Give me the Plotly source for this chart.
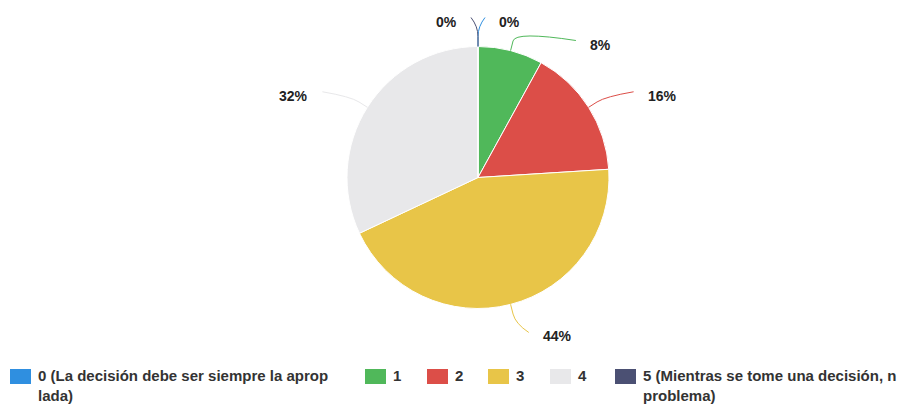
import math
import plotly.graph_objects as go

# Survey answers on a 0-5 scale
categories = ["0", "1", "2", "3", "4", "5"]
legend_labels = [
    "0 (La decisión debe ser siempre la aprop<br>lada)",
    "1",
    "2",
    "3",
    "4",
    "5 (Mientras se tome una decisión, n<br>problema)",
]
percentages = [0, 8, 16, 44, 32, 0]

colors = ["#2f8fe0", "#50b85a", "#dc4e48", "#e8c548", "#e8e8ea", "#4b5073"]

W, H = 907, 408
CX, CY, R = 478, 177.5, 131          # pie centre and radius (px)
LABEL_R = 160                         # radius of the label ring
STRETCH = 1.1                         # horizontal spread of the label ring
PAD = 7
TEXT_GAP = 12
MIN_SEP = 23


def px(x):
    return x / W


def py(y):
    return 1 - y / H


fig = go.Figure(
    go.Pie(
        labels=categories,
        values=percentages,
        marker=dict(colors=colors, line=dict(color="white", width=1)),
        sort=False,
        direction="clockwise",
        rotation=0,
        textinfo="none",
        showlegend=False,
        domain=dict(x=[px(CX - R), px(CX + R)], y=[py(CY + R), py(CY - R)]),
    )
)

# Mid-angle of each slice, clockwise from 12 o'clock
total = sum(percentages)
mids = []
acc = 0
for v in percentages:
    mids.append((acc + v / 2) / total * 2 * math.pi)
    acc += v

# Outside labels: place on a ring, push apart vertically on each side
items = []
for i, th in enumerate(mids):
    side = 1 if th < math.pi else -1
    items.append(dict(i=i, th=th, side=side, y=-LABEL_R * math.cos(th)))

for s in (1, -1):
    group = sorted([it for it in items if it["side"] == s], key=lambda d: d["y"])
    prev = None
    for it in group:
        if prev is not None and it["y"] < prev + MIN_SEP:
            it["y"] = prev + MIN_SEP
        prev = it["y"]


def radial(th, r):
    return CX + r * math.sin(th), CY - r * math.cos(th)


shapes = []
annotations = []
for it in items:
    i, th, side, yr = it["i"], it["th"], it["side"], it["y"]
    xr = side * (STRETCH * math.sqrt(max(LABEL_R ** 2 - yr ** 2, 0)) + PAD)
    ex, ey = radial(th, R)
    bx, by = radial(th, R + 10)
    qx, qy = radial(th, R + 20)
    tx, ty = CX + xr, CY + yr
    shapes.append(dict(
        type="path", xref="paper", yref="paper",
        path=(f"M {px(ex)} {py(ey)} L {px(bx)} {py(by)} "
              f"Q {px(qx)} {py(qy)} {px(tx)} {py(ty)}"),
        line=dict(color=colors[i], width=1),
    ))
    annotations.append(dict(
        x=px(tx + side * TEXT_GAP), y=py(ty + 4), xref="paper", yref="paper",
        text=f"{percentages[i]}%", showarrow=False,
        xanchor="left" if side > 0 else "right", yanchor="middle",
        font=dict(family="Liberation Sans, Arial", size=14, color="#222222", weight="bold"),
    ))

# Legend row along the bottom
legend_x = [10, 365, 427, 488, 550, 615]
SW_W, SW_H, SW_TOP = 21, 15, 369
for i, lx in enumerate(legend_x):
    shapes.append(dict(
        type="rect", xref="paper", yref="paper",
        x0=px(lx), x1=px(lx + SW_W), y0=py(SW_TOP + SW_H), y1=py(SW_TOP),
        fillcolor=colors[i], line=dict(width=0),
    ))
    annotations.append(dict(
        x=px(lx + SW_W + 5), y=py(SW_TOP - 4), xref="paper", yref="paper",
        text=legend_labels[i], showarrow=False, align="left",
        xanchor="left", yanchor="top",
        font=dict(family="Liberation Sans, Arial", size=15, color="#333333", weight="bold"),
    ))

fig.update_layout(
    width=W, height=H,
    margin=dict(l=0, r=0, t=0, b=0),
    paper_bgcolor="white",
    plot_bgcolor="white",
    shapes=shapes,
    annotations=annotations,
)

fig.write_html("out.html")
